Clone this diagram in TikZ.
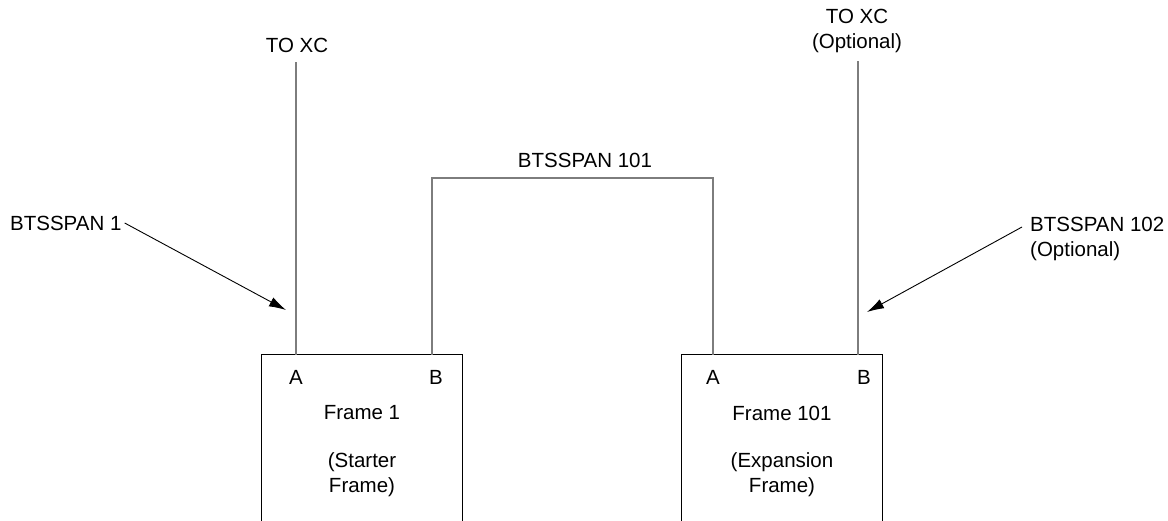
\documentclass[tikz,border=0pt]{standalone}
\usepackage{fontspec}
\setmainfont{Liberation Sans}
\usepackage{tikz}
\usetikzlibrary{arrows.meta}
\usetikzlibrary{calc}
\usetikzlibrary{positioning}
\definecolor{cablegray}{RGB}{125,125,125}
\tikzset{>={Latex[length=17pt,width=10pt]}}
\tikzset{frame/.style={minimum width=200pt,minimum height=166pt},
  span/.style={cablegray,line width=1.7pt},
  framebox/.style={black,line width=1.2pt},
  callout/.style={->,line width=0.9pt}}

\begin{document}
\begin{tikzpicture}[x=1pt,y=-1pt,every node/.style={draw=none,align=center,inner sep=0pt,font=\fontsize{20.5}{25}\selectfont}]
  \useasboundingbox (0,0) rectangle (1168,521);

  % frames, open at the bottom
  \draw node[frame] at (362,438) (fr1) {};
  \draw node[frame] at (782,438) (fr101) {};
  \draw[framebox] (fr1.south west) |- (fr1.north east) -- (fr1.south east);
  \draw[framebox] (fr101.south west) |- (fr101.north east) -- (fr101.south east);

  \coordinate (fr1A) at (296,355);
  \coordinate (fr1B) at (432,355);
  \coordinate (fr101A) at (713,355);
  \coordinate (fr101B) at (858,355);

  \draw node at (296,377) (pA1) {A};
  \draw node at (436,377) (pB1) {B};
  \draw node at (713,377) (pA101) {A};
  \draw node at (864,377) (pB101) {B};

  \draw node at (362,413) (name1) {Frame 1};
  \draw node at (362,475) (note1) {(Starter\\Frame)};
  \draw node at (782,413) (name101) {Frame 101};
  \draw node at (782,475) (note101) {(Expansion\\Frame)};

  % spans
  \draw node at (297,45) (xc1) {TO XC};
  \draw node at (857,31) (xc101) {TO XC\\(Optional)};
  \draw[span,shorten >=10pt] (fr1A) -- (fr1A |- xc1.south);
  \draw[span,shorten >=8pt] (fr101B) -- (fr101B |- xc101.south);

  \coordinate (bridge) at (585,178);
  \draw node[above=10pt of bridge] (span101) {BTSSPAN 101};
  \draw[span] (fr1B) |- (bridge) -| (fr101A);

  % callouts
  \draw node[anchor=west] at (10,223) (span1) {BTSSPAN 1};
  \draw node[anchor=west,align=left] at (1030,239) (span102) {BTSSPAN 102\\(Optional)};
  \coordinate (tip1) at (286,310);
  \coordinate (tip102) at (867,312);
  \draw[callout] ([xshift=3pt]span1.east) -- (tip1);
  \draw[callout] ([shift={(-8pt,12pt)}]span102.west) -- (tip102);

\end{tikzpicture}
\end{document}
